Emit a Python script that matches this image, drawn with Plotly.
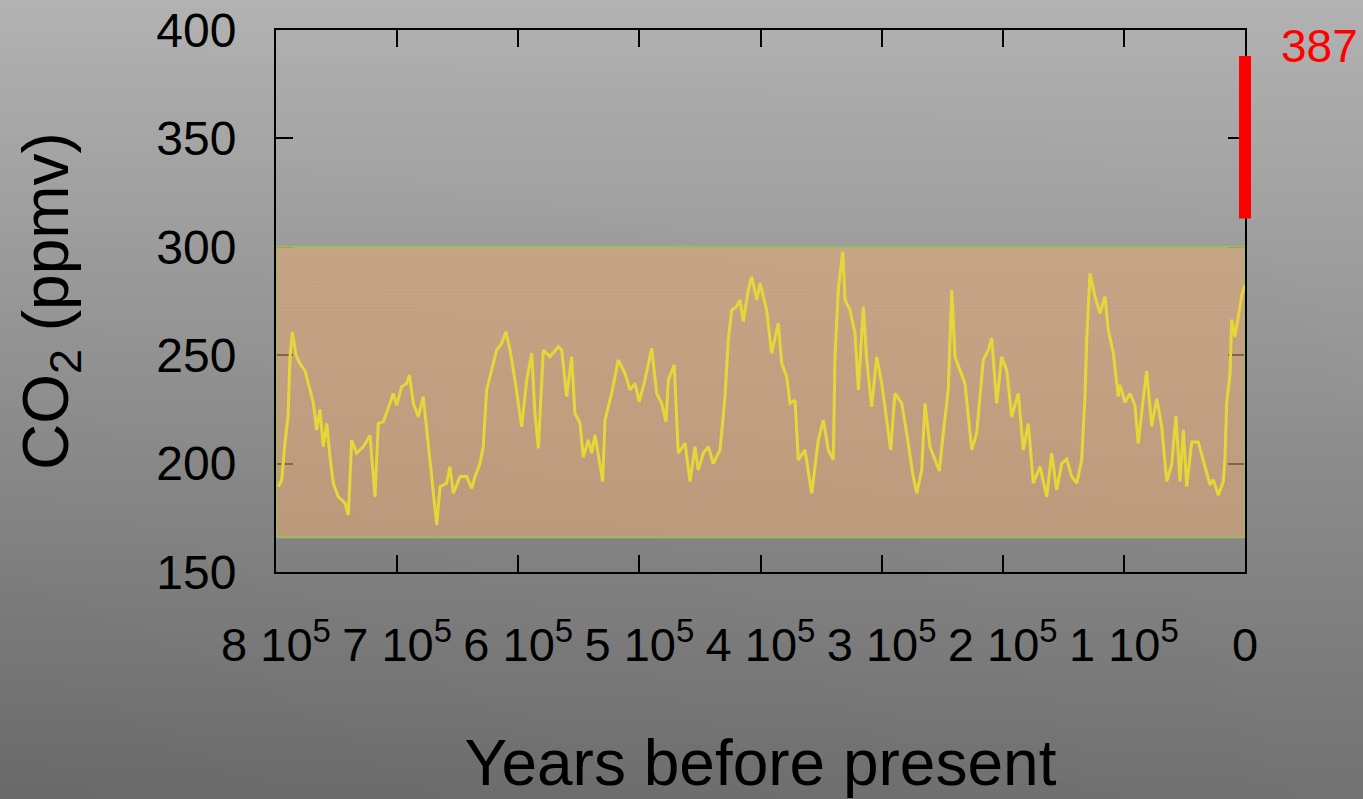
import base64
import struct
import zlib

import plotly.graph_objects as go

# ---------------- data ----------------
# thousands of years before present, CO2 in ppmv
age_kyr = [
    798.1, 795.3, 792.6, 790.1, 788.4, 786.5, 783.5, 780.2, 776.1, 771.9,
    769.2, 766.4, 763.7, 761.0, 758.1, 755.4, 752.7, 748.6, 743.0, 740.3,
    737.5, 733.4, 727.9, 722.4, 718.3, 715.5, 711.4, 705.9, 703.2, 700.4,
    696.2, 692.1, 689.9, 686.6, 682.5, 678.4, 675.6, 672.9, 670.1, 667.3,
    664.6, 659.1, 656.4, 653.6, 648.1, 642.6, 638.4, 635.7, 631.6, 628.9,
    626.1, 621.9, 617.8, 613.7, 610.1, 606.8, 602.7, 597.2, 593.0, 588.9,
    586.2, 583.4, 579.3, 573.8, 566.9, 564.1, 560.0, 555.9, 553.2, 549.0,
    546.3, 542.2, 539.4, 536.6, 532.5, 530.3, 528.4, 522.9, 517.4, 511.9,
    507.7, 503.6, 500.1, 495.4, 489.8, 485.7, 481.6, 478.0, 476.1, 471.2,
    467.9, 462.3, 458.2, 454.1, 451.4, 447.2, 443.1, 439.0, 433.4, 429.3,
    426.6, 423.8, 419.7, 416.9, 414.2, 410.1, 407.3, 403.1, 400.4, 394.9,
    390.8, 385.3, 382.5, 378.4, 375.6, 371.5, 368.8, 363.3, 357.7, 352.3,
    348.1, 344.0, 339.9, 338.5, 335.8, 332.1, 330.2, 326.1, 322.0, 319.2,
    315.1, 312.3, 308.2, 304.1, 299.9, 295.8, 292.5, 289.0, 283.4, 279.3,
    273.9, 271.0, 266.9, 264.2, 260.1, 255.9, 252.4, 249.1, 245.0, 242.1,
    239.4, 235.3, 231.2, 225.6, 221.5, 216.1, 211.9, 209.1, 205.0, 200.9,
    196.7, 192.6, 187.2, 183.0, 178.9, 174.8, 169.2, 163.7, 159.6, 155.5,
    151.3, 147.2, 143.1, 138.9, 134.8, 132.1, 130.7, 128.0, 123.8, 119.7,
    115.6, 112.9, 108.7, 104.6, 103.2, 99.1, 94.9, 90.8, 88.1, 84.0,
    81.2, 77.0, 72.9, 68.8, 64.6, 60.5, 57.0, 53.7, 50.9, 48.1,
    44.0, 38.6, 33.0, 28.9, 26.2, 22.0, 17.9, 16.5, 15.1, 12.4,
    11.0, 8.3, 5.5, 2.7, 0.0,
]
co2_ppmv = [
    189.4, 192.4, 209.5, 221.6, 249.3, 260.8, 250.0, 246.0, 243.0, 234.0,
    228.0, 215.5, 225.0, 207.8, 218.6, 203.0, 191.0, 184.7, 181.8, 176.3,
    210.9, 204.8, 207.8, 213.0, 184.7, 218.6, 219.3, 227.8, 232.4, 227.0,
    235.5, 237.0, 240.9, 227.8, 221.6, 230.9, 215.5, 200.0, 187.8, 171.7,
    189.4, 191.0, 198.6, 186.3, 194.0, 194.0, 188.6, 194.0, 200.0, 207.8,
    234.0, 243.0, 252.4, 255.5, 260.8, 252.4, 238.6, 217.0, 238.6, 250.9,
    223.2, 207.0, 252.4, 249.3, 253.9, 252.4, 230.9, 249.3, 223.2, 218.6,
    203.0, 210.9, 204.8, 213.2, 200.0, 191.7, 220.0, 232.4, 247.8, 241.6,
    234.0, 237.0, 228.6, 238.6, 253.2, 232.4, 227.8, 219.3, 238.6, 245.5,
    204.8, 209.4, 191.7, 207.8, 197.0, 204.8, 207.8, 200.0, 206.3, 230.9,
    257.0, 270.8, 272.4, 275.5, 265.5, 280.0, 286.2, 275.5, 283.2, 270.8,
    250.9, 264.7, 246.3, 240.1, 227.8, 229.3, 201.7, 206.3, 186.3, 210.9,
    220.0, 206.3, 201.7, 249.3, 280.0, 297.8, 275.5, 270.8, 260.0, 234.0,
    272.4, 247.8, 226.2, 249.3, 237.0, 218.6, 206.3, 232.4, 227.8, 214.0,
    194.0, 186.3, 197.0, 227.8, 207.8, 201.7, 196.6, 214.0, 234.0, 280.0,
    249.3, 243.0, 237.0, 206.3, 214.0, 247.8, 252.4, 257.8, 227.8, 249.3,
    243.0, 221.6, 232.4, 206.3, 218.6, 191.0, 198.6, 184.7, 204.8, 187.8,
    200.0, 202.0, 194.0, 191.0, 201.7, 230.9, 257.0, 287.8, 277.0, 269.3,
    277.0, 261.6, 250.9, 230.9, 236.3, 228.3, 232.3, 226.7, 209.2, 229.9,
    242.6, 217.2, 229.9, 217.2, 191.8, 199.7, 221.9, 191.8, 215.6, 189.4,
    210.0, 210.0, 198.1, 190.2, 192.6, 185.4, 191.8, 202.9, 228.3, 241.0,
    266.4, 258.5, 268.0, 277.5, 282.3,
]
years_bp = [a * 1000 for a in age_kyr]

# natural range band (ppmv) and modern measurement
band_low = 166
band_high = 300
modern_low = 313
modern_high = 388
modern_label = 387

x_tick_vals = [800000, 700000, 600000, 500000, 400000, 300000, 200000, 100000, 0]
x_tick_text = ["8 10<sup>5</sup>", "7 10<sup>5</sup>", "6 10<sup>5</sup>",
               "5 10<sup>5</sup>", "4 10<sup>5</sup>", "3 10<sup>5</sup>",
               "2 10<sup>5</sup>", "1 10<sup>5</sup>", "0"]
y_tick_vals = [150, 200, 250, 300, 350, 400]

x_min, x_max = 0, 800000
y_min, y_max = 150, 400

# ---------------- background gradient image ----------------
def gradient_png(w, h):
    rows = b""
    for j in range(h):
        t = j / (h - 1)
        row = b"\x00"
        for i in range(w):
            s = i / (w - 1)
            v = 178 - 68 * t + 8 * (s - 0.5) * t
            v = max(0, min(255, int(round(v))))
            row += bytes([v, v, v])
        rows += row
    def chunk(tag, data):
        c = struct.pack(">I", len(data)) + tag + data
        return c + struct.pack(">I", zlib.crc32(tag + data) & 0xffffffff)
    png = b"\x89PNG\r\n\x1a\n"
    png += chunk(b"IHDR", struct.pack(">IIBBBBB", w, h, 8, 2, 0, 0, 0))
    png += chunk(b"IDAT", zlib.compress(rows, 9))
    png += chunk(b"IEND", b"")
    return "data:image/png;base64," + base64.b64encode(png).decode()

W, H = 1363, 799
ML, MR, MT, MB = 276, 118, 30, 227
PW, PH = W - ML - MR, H - MT - MB

FONT = "Liberation Sans, Arial, Helvetica, sans-serif"

fig = go.Figure()

# shaded natural range band
fig.add_trace(go.Scatter(
    x=[x_max, x_min, x_min, x_max, x_max],
    y=[band_low, band_low, band_high, band_high, band_low],
    mode="lines", fill="toself",
    fillcolor="rgba(235,170,112,0.55)",
    fillpattern=dict(shape="+", size=4, solidity=0.3,
                     fgcolor="rgba(150,146,140,0.5)",
                     bgcolor="rgba(238,172,112,0.55)"),
    line=dict(color="#9dbb5f", width=2),
    hoverinfo="skip", showlegend=False,
))

# CO2 record
fig.add_trace(go.Scatter(
    x=years_bp, y=co2_ppmv, mode="lines",
    line=dict(color="#e8d638", width=3),
    showlegend=False,
))

# modern value bar at year 0 (right axis edge)
fig.add_shape(type="line", xref="paper", yref="y",
              x0=1, x1=1, y0=modern_low, y1=modern_high,
              line=dict(color="#ff0000", width=12), layer="above")
fig.add_annotation(xref="paper", yref="y", x=1, y=modern_high,
                   text=str(modern_label), showarrow=False,
                   xanchor="left", yanchor="middle", xshift=34, yshift=10,
                   font=dict(family=FONT, size=46, color="#ff0000"))

fig.add_layout_image(dict(
    source=gradient_png(48, 64), xref="paper", yref="paper",
    x=-ML / PW, y=1 + MT / PH, sizex=W / PW, sizey=H / PH,
    xanchor="left", yanchor="top", sizing="stretch", layer="below",
))

fig.update_xaxes(
    range=[x_max, x_min], tickvals=x_tick_vals, ticktext=x_tick_text,
    ticks="inside", ticklen=17, tickwidth=2, tickcolor="black",
    showline=True, linecolor="black", linewidth=2, mirror="ticks",
    showgrid=False, zeroline=False, layer="below traces",
    tickfont=dict(family=FONT, size=47, color="black"),
    ticklabelstandoff=31,
    title=dict(text="Years before present", standoff=80,
               font=dict(family=FONT, size=64, color="black")),
)
fig.update_yaxes(
    range=[y_min, y_max], tickvals=y_tick_vals,
    ticks="inside", ticklen=17, tickwidth=2, tickcolor="black",
    showline=True, linecolor="black", linewidth=2, mirror="ticks",
    showgrid=False, zeroline=False, layer="below traces",
    tickfont=dict(family=FONT, size=48, color="black"),
    ticklabelstandoff=28,
    title=dict(text="CO<sub>2</sub> (ppmv)", standoff=67,
               font=dict(family=FONT, size=64, color="black")),
)

fig.update_layout(
    width=W, height=H,
    margin=dict(l=ML, r=MR, t=MT, b=MB, autoexpand=False),
    paper_bgcolor="#939393", plot_bgcolor="rgba(0,0,0,0)",
    showlegend=False,
)

fig.write_html("out.html", config={"displayModeBar": False},
               post_script="document.body.style.margin='0';")
